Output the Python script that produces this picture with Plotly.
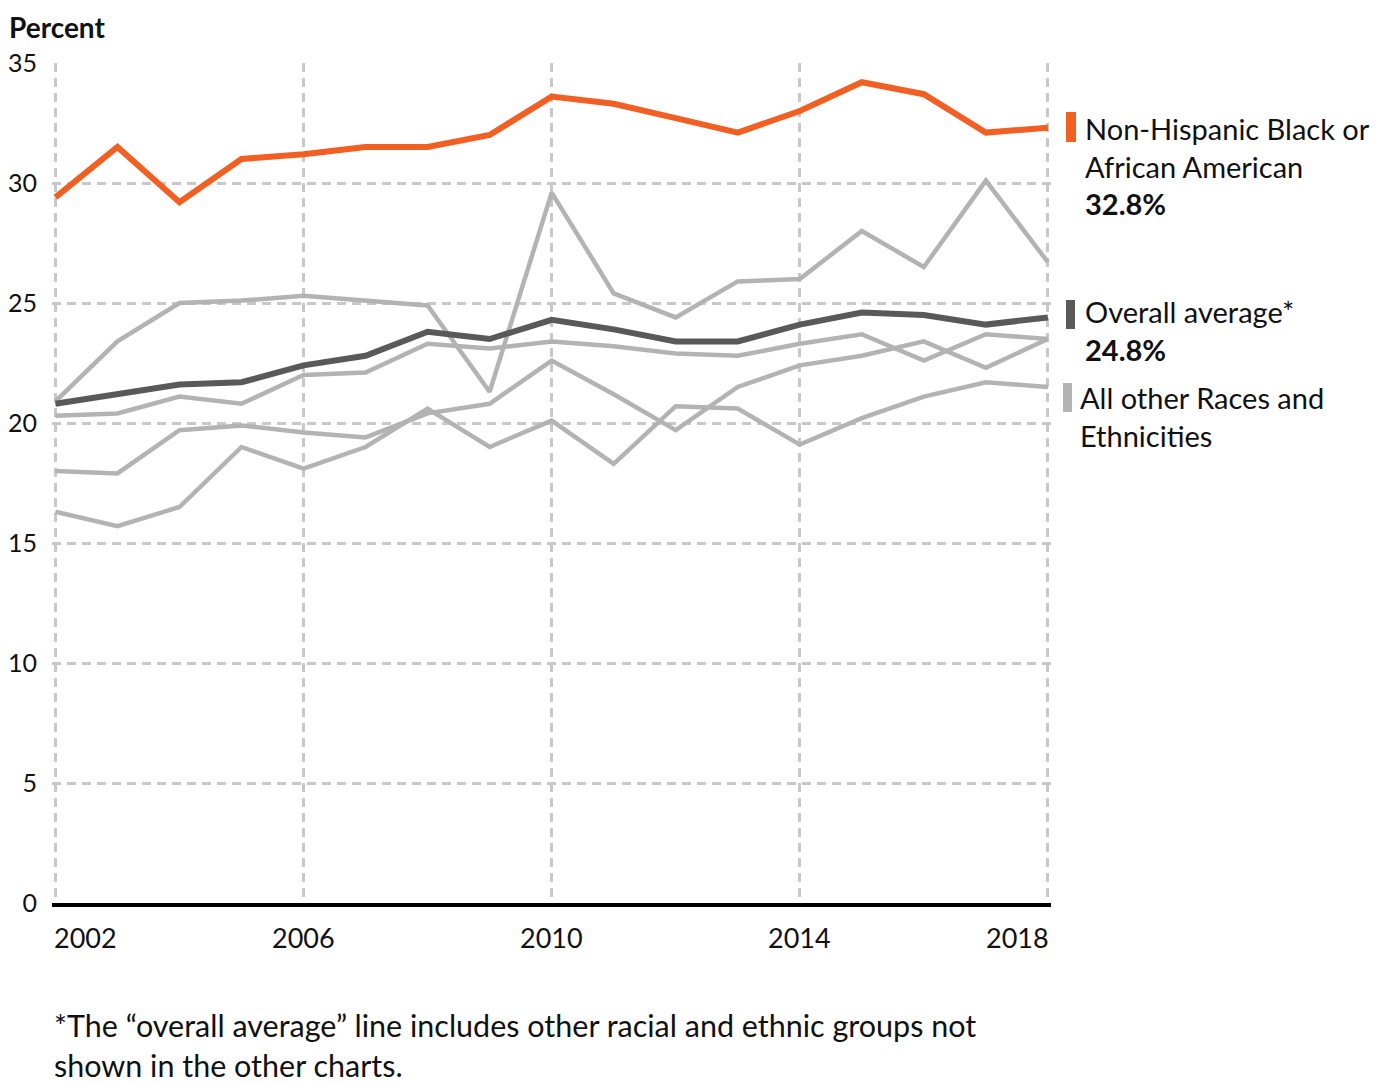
import plotly.graph_objects as go

years = list(range(2002, 2019))

black_aa = [29.4, 31.5, 29.2, 31.0, 31.2, 31.5, 31.5, 32.0, 33.6, 33.3, 32.7, 32.1, 33.0, 34.2, 33.7, 32.1, 32.3]
overall = [20.8, 21.2, 21.6, 21.7, 22.4, 22.8, 23.8, 23.5, 24.3, 23.9, 23.4, 23.4, 24.1, 24.6, 24.5, 24.1, 24.4]
other_a = [20.9, 23.4, 25.0, 25.1, 25.3, 25.1, 24.9, 21.3, 29.6, 25.4, 24.4, 25.9, 26.0, 28.0, 26.5, 30.1, 26.7]
other_b = [20.3, 20.4, 21.1, 20.8, 22.0, 22.1, 23.3, 23.1, 23.4, 23.2, 22.9, 22.8, 23.3, 23.7, 22.6, 23.7, 23.5]
other_c = [18.0, 17.9, 19.7, 19.9, 19.6, 19.4, 20.4, 20.8, 22.6, 21.2, 19.7, 21.5, 22.4, 22.8, 23.4, 22.3, 23.5]
other_d = [16.3, 15.7, 16.5, 19.0, 18.1, 19.0, 20.6, 19.0, 20.1, 18.3, 20.7, 20.6, 19.1, 20.2, 21.1, 21.7, 21.5]

x_ticks = [2002, 2006, 2010, 2014, 2018]
y_ticks = [0, 5, 10, 15, 20, 25, 30, 35]

ORANGE = "#F15F22"
DARK = "#595959"
LIGHT = "#b3b3b3"
GRID = "#c8c8c8"
FONT = "Lato, 'Noto Sans', sans-serif"

OFF = 8  # page body margin
W, H = 1376, 1076
L, R, T, B = 44, 333, 55, 181
PW, PH = W - L - R, H - T - B


def px(p):
    return (p - OFF - L) / PW


def py(p):
    return (H - B - (p - OFF)) / PH


fig = go.Figure()
for s in [other_a, other_b, other_c, other_d]:
    fig.add_trace(go.Scatter(x=years, y=s, mode="lines", line=dict(color=LIGHT, width=4.5),
                             cliponaxis=False, hoverinfo="skip", showlegend=False))
fig.add_trace(go.Scatter(x=years, y=overall, mode="lines", line=dict(color=DARK, width=6),
                         cliponaxis=False, showlegend=False))
fig.add_trace(go.Scatter(x=years, y=black_aa, mode="lines", line=dict(color=ORANGE, width=6),
                         cliponaxis=False, showlegend=False))

annotations = []
for yr in x_ticks:
    if yr == x_ticks[0]:
        ax, anc, xref = px(52), "left", "paper"
    elif yr == x_ticks[-1]:
        ax, anc, xref = px(1051), "right", "paper"
    else:
        ax, anc, xref = yr, "center", "x"
    annotations.append(dict(x=ax, xref=xref, y=py(937), yref="paper", text=str(yr),
                            xanchor=anc, yanchor="middle", showarrow=False,
                            font=dict(family=FONT, size=27, color="#111")))

annotations.append(dict(x=px(8), xref="paper", y=py(27), yref="paper", text="<b>Percent</b>",
                        xanchor="left", yanchor="middle", showarrow=False, borderpad=0,
                        font=dict(family=FONT, size=28, color="#111")))


def label(xp, yp, text):
    annotations.append(dict(x=px(xp), xref="paper", y=py(yp), yref="paper", text=text,
                            xanchor="left", yanchor="middle", align="left", showarrow=False,
                            font=dict(family=FONT, size=29, color="#111")))


label(1083, 166, "Non-Hispanic Black or<br>African American<br><b>32.8%</b>")
label(1083, 330, "Overall average*<br><b>24.8%</b>")
label(1078, 417, "All other Races and<br>Ethnicities")

annotations.append(dict(x=px(52), xref="paper", y=py(1045), yref="paper",
                        text="*The “overall average” line includes other racial and ethnic groups not<br>shown in the other charts.",
                        xanchor="left", yanchor="middle", align="left", showarrow=False,
                        font=dict(family=FONT, size=30.5, color="#111")))

shapes = []
for (x0, x1, y0, y1, c) in [(1066, 1076, 112, 142, ORANGE), (1066, 1075, 300, 329, DARK),
                            (1063, 1072, 383, 412, LIGHT)]:
    shapes.append(dict(type="rect", xref="paper", yref="paper", x0=px(x0), x1=px(x1),
                       y0=py(y1), y1=py(y0), fillcolor=c, line=dict(width=0), layer="above"))

fig.update_layout(
    width=W, height=H,
    margin=dict(l=L, r=R, t=T, b=B, autoexpand=False),
    plot_bgcolor="white", paper_bgcolor="white",
    font=dict(family=FONT, size=26, color="#111"),
    xaxis=dict(range=[2001.945, 2018.05], tickvals=x_ticks, showticklabels=False,
               showgrid=True, gridcolor=GRID, gridwidth=3, griddash="9px,6px",
               showline=True, linecolor="#000", linewidth=4, zeroline=False, ticks="",
               automargin=False),
    yaxis=dict(range=[0, 35], tickvals=y_ticks, showgrid=True, gridcolor=GRID, gridwidth=3,
               griddash="9px,6px", zeroline=False, ticks="", ticklabelstandoff=14,
               automargin=False, tickfont=dict(family=FONT, size=25, color="#111")),
    annotations=annotations,
    shapes=shapes,
)

fig.write_html("out.html")
